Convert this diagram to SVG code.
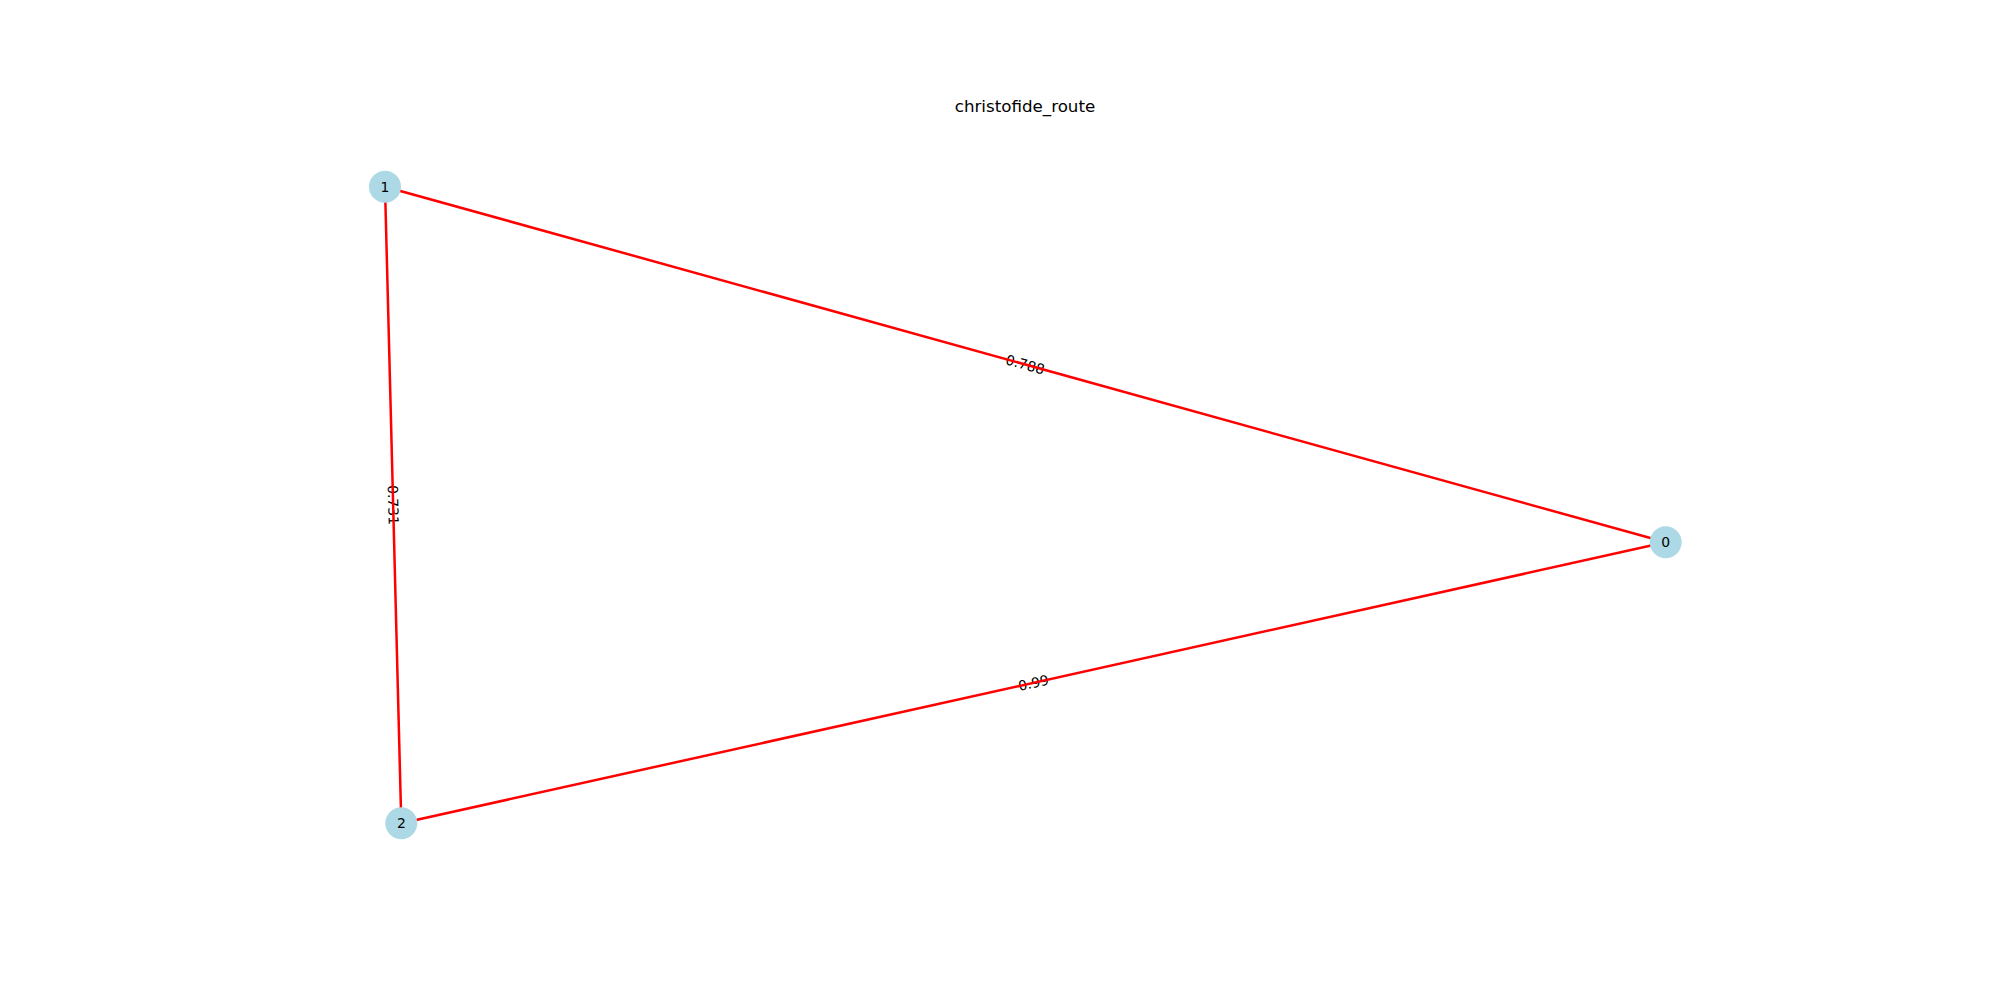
<svg xmlns="http://www.w3.org/2000/svg" width="2000" height="1000" viewBox="0 0 2000 1000">
<style>
.edge{stroke:#ff0000;stroke-width:2.5;fill:none}
.node circle{fill:#add8e6}
.nl{font-family:"DejaVu Sans",sans-serif;font-size:13.9px;fill:#000;text-anchor:middle;dominant-baseline:central}
.el{font-family:"DejaVu Sans",sans-serif;font-size:13.9px;fill:#000;text-anchor:middle;dominant-baseline:central}
.title{font-family:"DejaVu Sans",sans-serif;font-size:16.7px;fill:#000;text-anchor:middle}
</style>
<rect width="2000" height="1000" fill="#ffffff"/>
<text class="title" x="1025" y="111.5">christofide_route</text>
<g id="edge-labels">
<text class="el" transform="translate(1025.3,364.5) rotate(15.5)">0.788</text>
<text class="el" transform="translate(393.2,505) rotate(88.5)">0.731</text>
<text class="el" transform="translate(1033.5,682.8) rotate(-12.53)">0.99</text>
</g>
<g id="connectors">
<line class="edge" x1="385" y1="186.7" x2="1665.7" y2="542.3"/>
<line class="edge" x1="385" y1="186.7" x2="401.3" y2="823.3"/>
<line class="edge" x1="401.3" y1="823.3" x2="1665.7" y2="542.3"/>
</g>
<g id="node-0" class="node"><circle cx="1665.7" cy="542.3" r="16"/><text class="nl" x="1665.7" y="542.3">0</text></g>
<g id="node-1" class="node"><circle cx="385" cy="186.7" r="16"/><text class="nl" x="385" y="186.7">1</text></g>
<g id="node-2" class="node"><circle cx="401.3" cy="823.3" r="16"/><text class="nl" x="401.3" y="823.3">2</text></g>
</svg>
